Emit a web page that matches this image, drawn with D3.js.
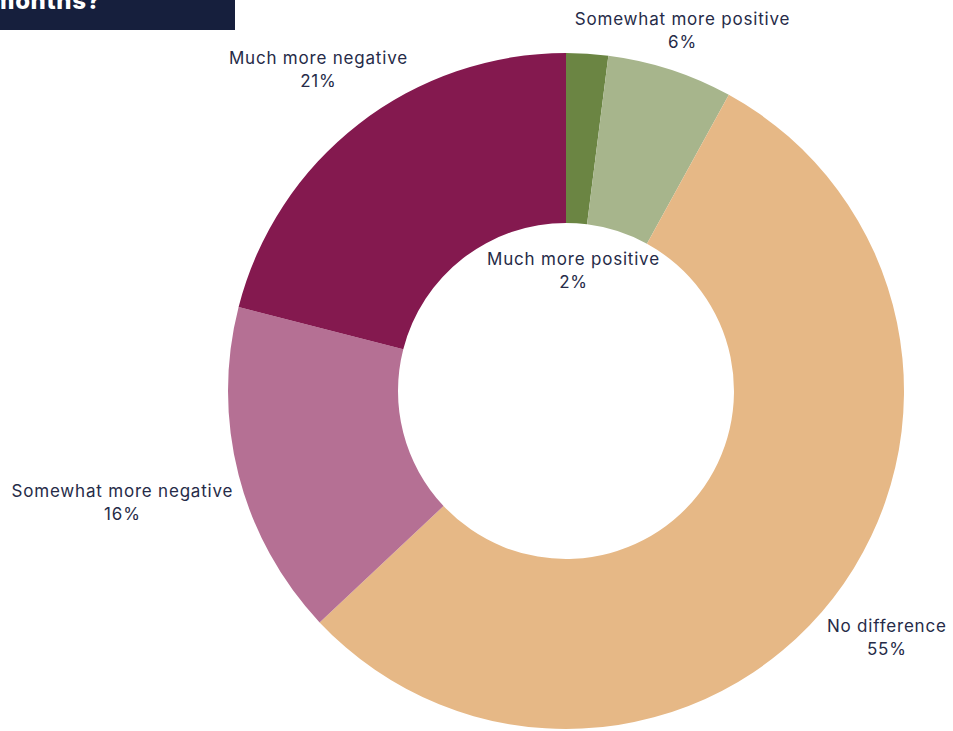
<!DOCTYPE html>
<html>
<head>
<meta charset="utf-8">
<script src="https://cdn.jsdelivr.net/npm/d3@7"></script>
<style>
  html, body { margin: 0; padding: 0; background: #ffffff; }
  svg { display: block; }
</style>
</head>
<body>
<svg id="chart" width="953" height="731"></svg>
<script>
// Survey responses: change in outlook
const categories = ["Much more positive", "Somewhat more positive", "No difference", "Somewhat more negative", "Much more negative"];
const shares = [2, 6, 55, 16, 21];
const colors = ["#6b8543", "#a7b58c", "#e6b886", "#b57094", "#84194f"];
// distance of each label block from the donut centre
const labelRadius = [119, 377, 406, 458, 404];

const W = 953, H = 731;
const cx = 566, cy = 391;
const outerR = 338, innerR = 168;

const svg = d3.select("#chart");

// title banner (only its last line sits inside the frame)
svg.append("rect").attr("x", 0).attr("y", 0).attr("width", 235).attr("height", 30).attr("fill", "#161f3d");
svg.append("text")
  .attr("x", 101).attr("y", 9)
  .attr("text-anchor", "end")
  .attr("fill", "#ffffff")
  .attr("font-family", "Inter, 'Noto Sans', sans-serif")
  .attr("font-weight", 800)
  .attr("font-size", 24)
  .attr("letter-spacing", 0.6)
  .text("over the last 12 months?");

const data = categories.map((c, i) => ({ category: c, value: shares[i], color: colors[i], lr: labelRadius[i] }));

const pie = d3.pie().value(d => d.value).sort(null);
const arc = d3.arc().innerRadius(innerR).outerRadius(outerR);

const g = svg.append("g").attr("transform", `translate(${cx},${cy})`);

const arcs = pie(data);

g.selectAll("path.slice")
  .data(arcs)
  .join("path")
  .attr("class", "slice")
  .attr("d", arc)
  .attr("fill", d => d.data.color);

const labels = g.selectAll("text.label")
  .data(arcs)
  .join("text")
  .attr("class", "label")
  .attr("text-anchor", "middle")
  .attr("fill", "#262b48")
  .attr("font-family", "Inter, 'Noto Sans', sans-serif")
  .attr("font-size", 17)
  .attr("letter-spacing", 0.8)
  .attr("transform", d => {
    const r = d.data.lr;
    const c = d3.arc().innerRadius(r).outerRadius(r).centroid(d);
    return `translate(${c[0]},${c[1]})`;
  });

labels.append("tspan").attr("x", 0).attr("dy", "-0.45em").text(d => d.data.category);
labels.append("tspan").attr("x", 0).attr("dy", "1.35em").text(d => d.data.value + "%");
</script>
</body>
</html>
